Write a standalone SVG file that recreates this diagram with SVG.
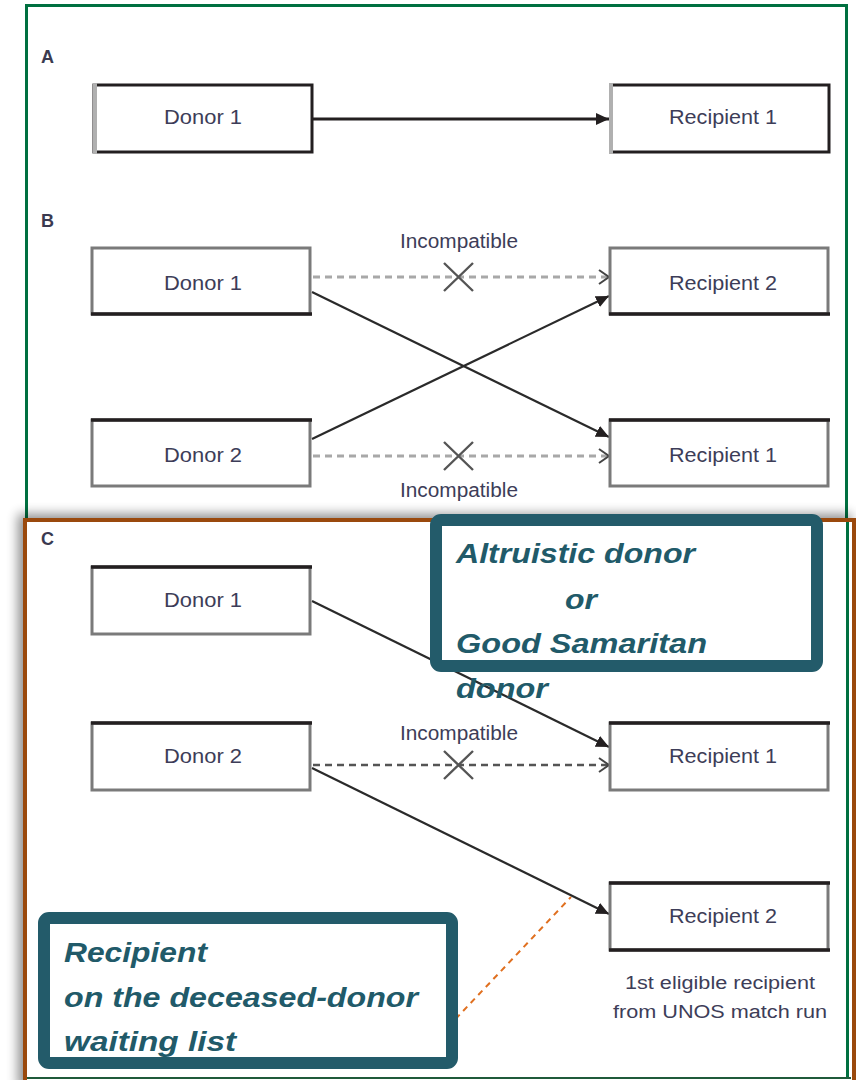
<svg xmlns="http://www.w3.org/2000/svg" width="856" height="1080" viewBox="0 0 856 1080">
<style>
.lbl{font-family:"Liberation Sans",Arial,sans-serif;font-size:20px;fill:#3d3d58;text-anchor:middle}
.pan{font-family:"Liberation Sans",Arial,sans-serif;font-size:18px;font-weight:bold;fill:#3a3a50}
.box{fill:#fff;stroke:#7a7a7a;stroke-width:3}
.blk{stroke:#231f20;stroke-width:3.5}
.lgt{stroke:#b0b0b0;stroke-width:4}
.sol{stroke:#2a2a2a;stroke-width:2.2;fill:none}
.dsh{stroke:#a8a8a8;stroke-width:3;stroke-dasharray:7 5;fill:none}
.dshc{stroke:#555;stroke-width:2.6;stroke-dasharray:7 5;fill:none}
.xm{stroke:#555;stroke-width:2.4}
.call{fill:#fff;stroke:#235b6a;stroke-width:12}
.ct{font-family:"Liberation Sans",Arial,sans-serif;font-size:28px;font-weight:bold;font-style:italic;fill:#215a69}
</style>
<defs>
<marker id="fa" markerUnits="userSpaceOnUse" markerWidth="14" markerHeight="14" refX="13" refY="6" orient="auto">
<path d="M0,0 L13,6 L0,12 z" fill="#231f20"/>
</marker>
<marker id="oa" markerUnits="userSpaceOnUse" markerWidth="14" markerHeight="16" refX="11" refY="8" orient="auto">
<path d="M1,1 L11,8 L1,15" fill="none" stroke="#444" stroke-width="2"/>
</marker>
<filter id="sh" x="-5%" y="-5%" width="110%" height="110%">
<feGaussianBlur in="SourceAlpha" stdDeviation="6"/>
<feOffset dx="-5" dy="-4"/>
<feComponentTransfer><feFuncA type="linear" slope="0.45"/></feComponentTransfer>
<feMerge><feMergeNode/><feMergeNode in="SourceGraphic"/></feMerge>
</filter>
</defs>
<rect width="856" height="1080" fill="#fff"/>
<rect x="26.5" y="5.5" width="820" height="1072" fill="#fff" stroke="#007040" stroke-width="3"/>
<rect id="frameC" x="25" y="520" width="829" height="570" fill="#fff" stroke="#9a4a0a" stroke-width="4" filter="url(#sh)"/>
<line x1="847.5" y1="522" x2="847.5" y2="1078" stroke="#007040" stroke-width="3"/>
<line x1="27" y1="1078" x2="851" y2="1078" stroke="#1f5a3a" stroke-width="2"/>

<text class="pan" x="41" y="63">A</text>
<text class="pan" x="41" y="227">B</text>
<text class="pan" x="41" y="545">C</text>

<g id="connectors">
<line class="sol" x1="312" y1="119" x2="609" y2="119" marker-end="url(#fa)" style="stroke-width:3;stroke:#231f20"/>
<line class="dsh" x1="313" y1="277" x2="609" y2="277" marker-end="url(#oa)"/>
<line class="sol" x1="312" y1="292" x2="609" y2="437" marker-end="url(#fa)"/>
<line class="sol" x1="312" y1="439" x2="609" y2="296" marker-end="url(#fa)"/>
<line class="dsh" x1="313" y1="456" x2="609" y2="456" marker-end="url(#oa)"/>
<line class="sol" x1="312" y1="601" x2="609" y2="747" marker-end="url(#fa)"/>
<line class="dshc" x1="313" y1="765" x2="609" y2="765" marker-end="url(#oa)"/>
<line class="sol" x1="312" y1="768" x2="609" y2="914" marker-end="url(#fa)"/>
<g id="xmarks">
<path class="xm" d="M444,263 L473,291 M473,263 L444,291"/>
<path class="xm" d="M444,442 L473,470 M473,442 L444,470"/>
<path class="xm" d="M444,751 L473,779 M473,751 L444,779"/>
</g>
<line x1="448" y1="1027" x2="571" y2="897" stroke="#e07020" stroke-width="2" stroke-dasharray="6 5"/>
</g>
<text class="lbl" x="459" y="248" textLength="118" lengthAdjust="spacingAndGlyphs">Incompatible</text>
<text class="lbl" x="459" y="497" textLength="118" lengthAdjust="spacingAndGlyphs">Incompatible</text>
<text class="lbl" x="459" y="740" textLength="118" lengthAdjust="spacingAndGlyphs">Incompatible</text>

<g id="a-donor1">
<rect class="box" x="94" y="85" width="218" height="67" style="stroke:#231f20"/>
<line class="lgt" x1="95" y1="83" x2="95" y2="154"/>
<text class="lbl" x="203" y="124" textLength="78" lengthAdjust="spacingAndGlyphs">Donor 1</text>
</g>
<g id="a-recipient1">
<rect class="box" x="611" y="85" width="218" height="67" style="stroke:#231f20"/>
<line class="lgt" x1="611" y1="83" x2="611" y2="154"/>
<text class="lbl" x="723" y="124" textLength="108" lengthAdjust="spacingAndGlyphs">Recipient 1</text>
</g>

<g id="b-donor1">
<rect class="box" x="92" y="248" width="218" height="66"/>
<line class="blk" x1="91" y1="314" x2="312" y2="314"/>
<text class="lbl" x="203" y="290" textLength="78" lengthAdjust="spacingAndGlyphs">Donor 1</text>
</g>
<g id="b-recipient2">
<rect class="box" x="610" y="248" width="218" height="66"/>
<line class="blk" x1="609" y1="314" x2="830" y2="314"/>
<text class="lbl" x="723" y="290" textLength="108" lengthAdjust="spacingAndGlyphs">Recipient 2</text>
</g>
<g id="b-donor2">
<rect class="box" x="92" y="420" width="218" height="66"/>
<line class="blk" x1="91" y1="420" x2="312" y2="420"/>
<text class="lbl" x="203" y="462" textLength="78" lengthAdjust="spacingAndGlyphs">Donor 2</text>
</g>
<g id="b-recipient1">
<rect class="box" x="610" y="420" width="218" height="66"/>
<line class="blk" x1="609" y1="420" x2="830" y2="420"/>
<text class="lbl" x="723" y="462" textLength="108" lengthAdjust="spacingAndGlyphs">Recipient 1</text>
</g>

<g id="c-donor1">
<rect class="box" x="92" y="567" width="218" height="67"/>
<line class="blk" x1="91" y1="567" x2="312" y2="567"/>
<text class="lbl" x="203" y="607" textLength="78" lengthAdjust="spacingAndGlyphs">Donor 1</text>
</g>
<g id="c-donor2">
<rect class="box" x="92" y="723" width="218" height="67"/>
<line class="blk" x1="91" y1="723" x2="312" y2="723"/>
<text class="lbl" x="203" y="763" textLength="78" lengthAdjust="spacingAndGlyphs">Donor 2</text>
</g>
<g id="c-recipient1">
<rect class="box" x="610" y="723" width="218" height="67"/>
<line class="blk" x1="609" y1="723" x2="830" y2="723"/>
<text class="lbl" x="723" y="763" textLength="108" lengthAdjust="spacingAndGlyphs">Recipient 1</text>
</g>
<g id="c-recipient2">
<rect class="box" x="610" y="883" width="218" height="67"/>
<line class="blk" x1="609" y1="883" x2="830" y2="883"/>
<line class="blk" x1="609" y1="950" x2="830" y2="950"/>
<text class="lbl" x="723" y="923" textLength="108" lengthAdjust="spacingAndGlyphs">Recipient 2</text>
</g>
<g id="c-note">
<text class="lbl" x="720" y="989" style="font-size:18px" textLength="190" lengthAdjust="spacingAndGlyphs">1st eligible recipient</text>
<text class="lbl" x="720" y="1018" style="font-size:18px" textLength="214" lengthAdjust="spacingAndGlyphs">from UNOS match run</text>
</g>

<g id="callout-altruistic">
<rect class="call" x="436" y="520" width="381" height="146" rx="5"/>
<text class="ct" x="456" y="563" textLength="239" lengthAdjust="spacingAndGlyphs">Altruistic donor</text>
<text class="ct" x="565" y="609" textLength="32" lengthAdjust="spacingAndGlyphs">or</text>
<text class="ct" x="456" y="653" textLength="251" lengthAdjust="spacingAndGlyphs">Good Samaritan</text>
<text class="ct" x="456" y="698" textLength="92" lengthAdjust="spacingAndGlyphs">donor</text>
</g>
<g id="callout-recipient">
<rect class="call" x="44" y="918" width="408" height="145" rx="5"/>
<text class="ct" x="64" y="962" textLength="143" lengthAdjust="spacingAndGlyphs">Recipient</text>
<text class="ct" x="64" y="1007" textLength="354" lengthAdjust="spacingAndGlyphs">on the deceased-donor</text>
<text class="ct" x="64" y="1051" textLength="172" lengthAdjust="spacingAndGlyphs">waiting list</text>
</g>
</svg>
